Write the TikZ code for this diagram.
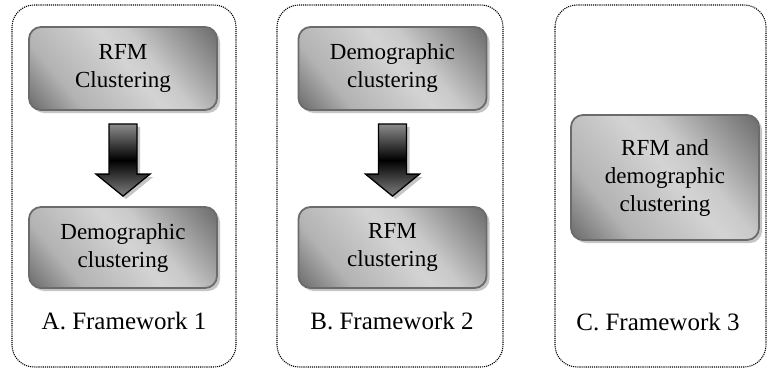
\documentclass[tikz,border=0pt]{standalone}
\usepackage{fontspec}
\setmainfont{Liberation Serif}
\usetikzlibrary{shadows,calc}

% degrade des boites
\pgfdeclareverticalshading{boxgrad}{100bp}{color(0bp)=(black!60); color(15bp)=(black!58);
	color(30bp)=(black!30); color(44bp)=(black!22); color(52bp)=(black!17);
	color(60bp)=(black!21); color(70bp)=(black!36); color(85bp)=(black!58); color(100bp)=(black!60)}

\tikzset{
	panel/.style={draw=black, line width=1.1pt, dash pattern=on 1.1pt off 1pt, rounded corners=22pt},
	clusterbox/.style={rectangle, rounded corners=12pt, draw=black!58, line width=1.8pt,
		shading=boxgrad, shading angle=-50,
		drop shadow={shadow xshift=3pt, shadow yshift=-3pt, fill=black!45, opacity=0.5},
		align=center, minimum width=188pt, inner sep=0pt,
		font=\fontsize{23}{28}\selectfont},
	flowarrow/.style={draw=black, line width=1.3pt, line join=miter,
		top color=black!45, bottom color=black!50, middle color=black,
		drop shadow={shadow xshift=3pt, shadow yshift=-3pt, fill=black!45, opacity=0.5}},
	caption/.style={font=\fontsize{25}{30}\selectfont}
}

% grosse fleche entre deux boites
\newcommand{\blockarrow}[2]{%
	\path[flowarrow] ($(#1.south)+(-14,13)$) -- ($(#1.south)+(14,13)$)
		-- ($(#2.north)+(14,-32)$) -- ($(#2.north)+(27,-32)$)
		-- ($(#2.north)+(0,-10)$)
		-- ($(#2.north)+(-27,-32)$) -- ($(#2.north)+(-14,-32)$) -- cycle;}

\begin{document}
\begin{tikzpicture}[x=1pt, y=-1pt]
	\useasboundingbox (0,0) rectangle (768,372);
	%les cadres
	\draw[panel] (12,5) rectangle (236,367);
	\draw[panel] (277,5) rectangle (503,367);
	\draw[panel] (555,5) rectangle (766,367);
	%framework 1
	\node[clusterbox, minimum height=83pt] (a1) at (123,68.5) {RFM\\Clustering};
	\node[clusterbox, minimum height=81pt] (a2) at (123,247.5) {Demographic\\clustering};
	\blockarrow{a1}{a2}
	\node[caption] (la) at (124,321) {A. Framework 1};
	%framework 2
	\node[clusterbox, minimum height=83pt] (b1) at (392.5,68.5) {Demographic\\clustering};
	\node[clusterbox, minimum height=81pt] (b2) at (392.5,247.5) {RFM\\clustering};
	\blockarrow{b1}{b2}
	\node[caption] (lb) at (392,321) {B. Framework 2};
	%framework 3
	\node[clusterbox, minimum height=125pt] (c1) at (665,177.5) {RFM and\\demographic\\clustering};
	\node[caption] (lc) at (658,322) {C. Framework 3};
\end{tikzpicture}
\end{document}
